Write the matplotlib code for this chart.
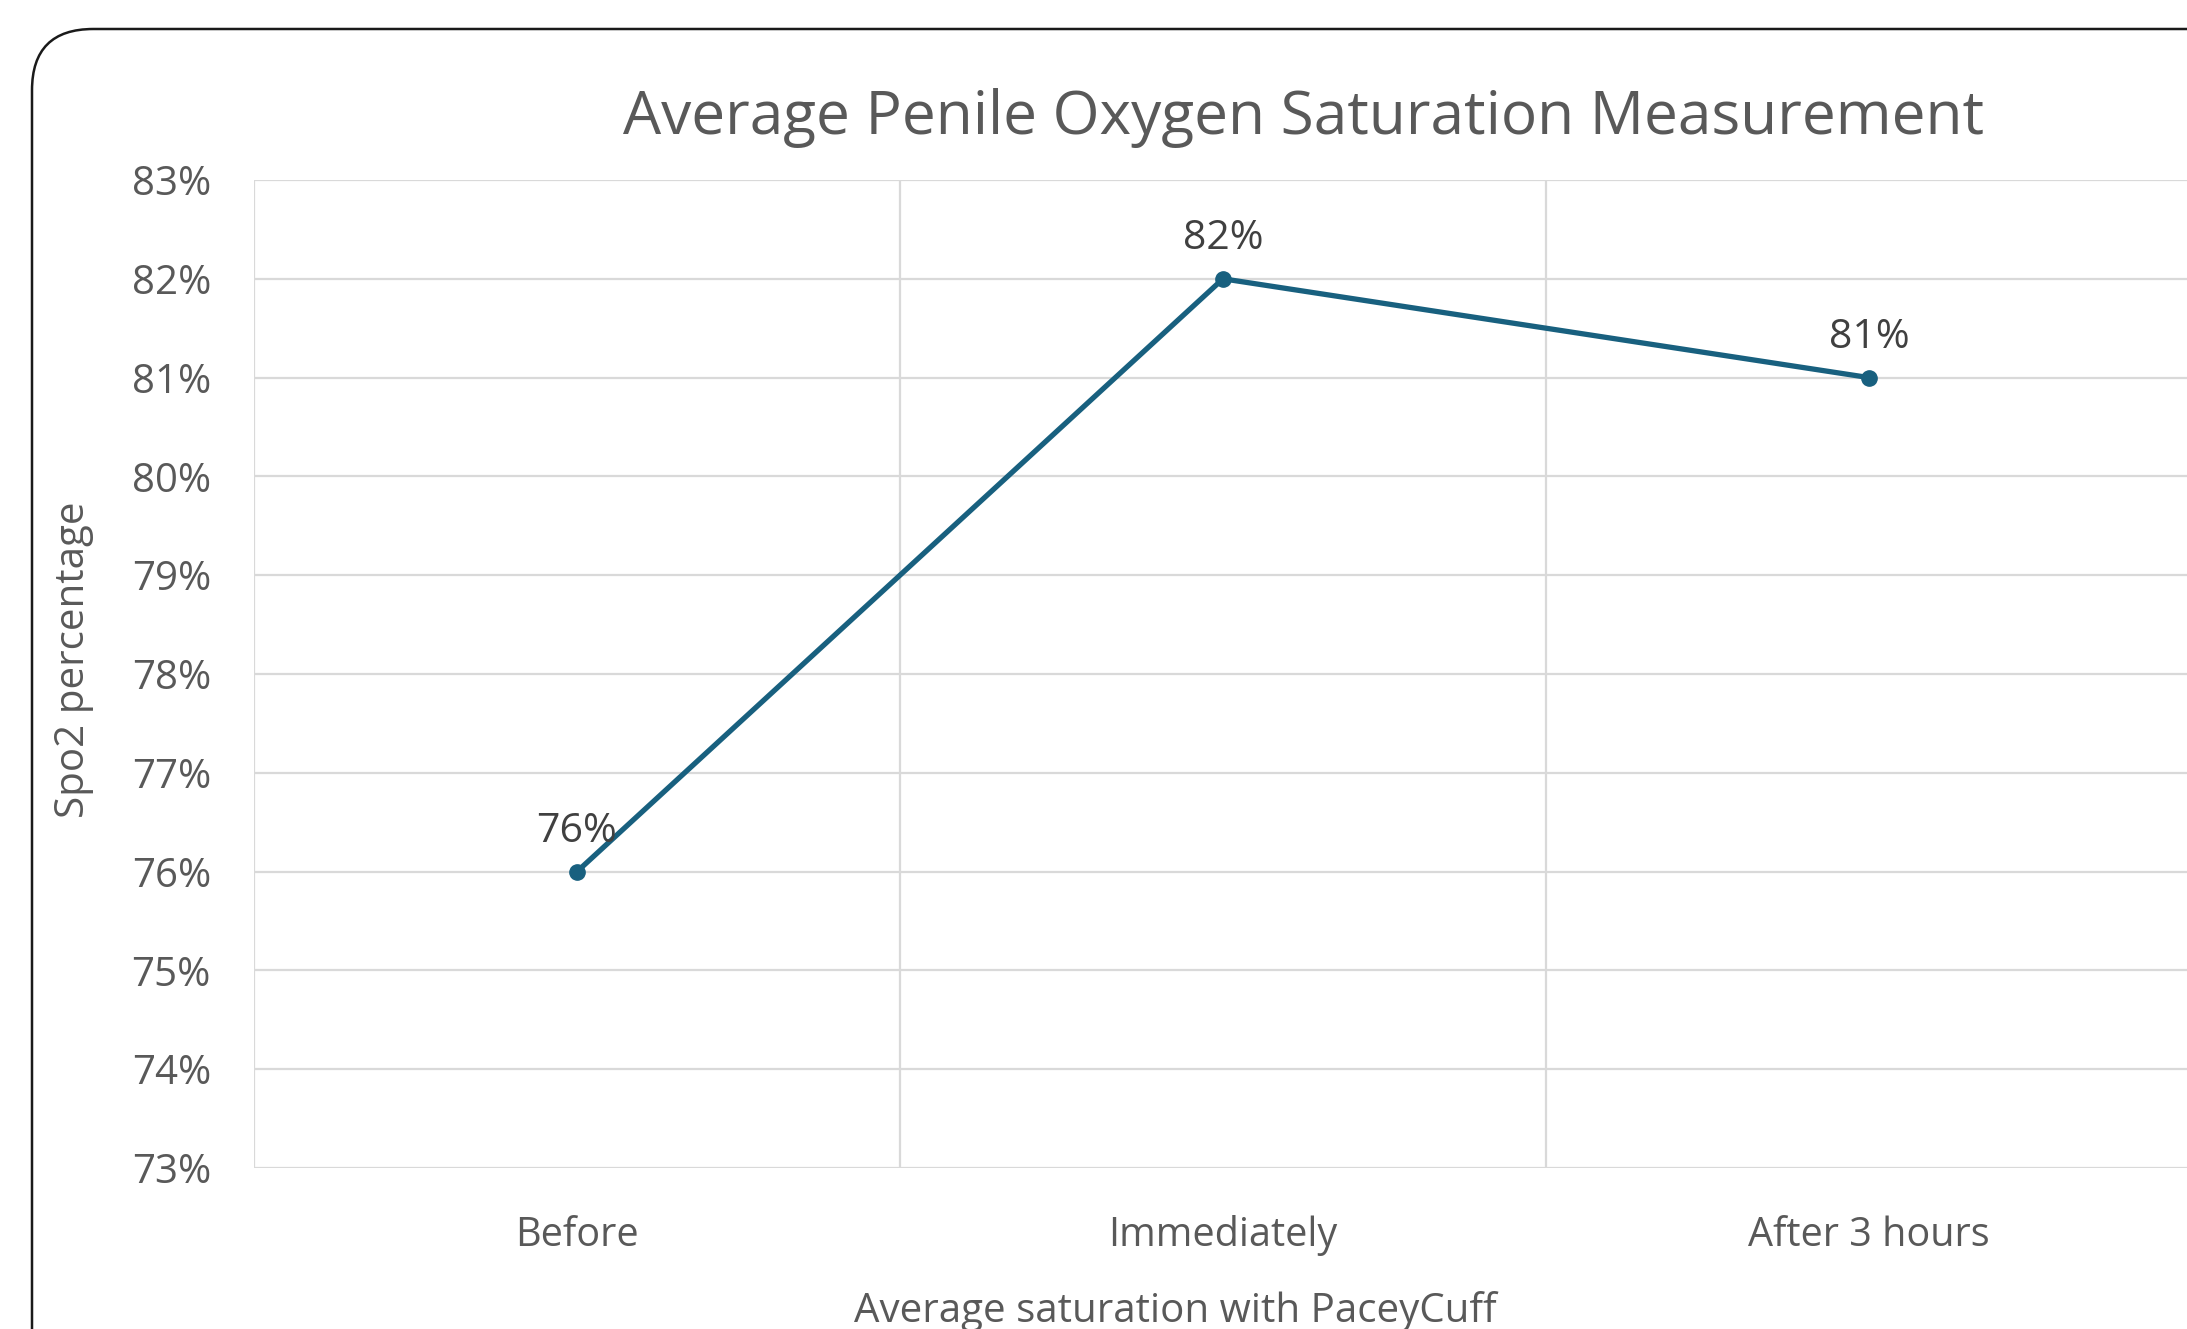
import matplotlib
matplotlib.use("Agg")
import matplotlib.pyplot as plt
from matplotlib.patches import FancyBboxPatch
from matplotlib.ticker import FuncFormatter, FixedLocator

categories = ["Before", "Immediately", "After 3 hours"]
values = [76, 82, 81]
y_ticks = [73, 74, 75, 76, 77, 78, 79, 80, 81, 82, 83]

title = "Average Penile Oxygen Saturation Measurement"
x_title = "Average saturation with PaceyCuff"
y_title = "Spo2 percentage"

plt.rcParams['font.family'] = ['Open Sans', 'DejaVu Sans']

W, H, DPI = 2187, 1329, 100
fig = plt.figure(figsize=(W / DPI, H / DPI), dpi=DPI)
fig.patch.set_facecolor("white")

# rounded chart border (extends past the right/bottom edges as in the reference)
border = FancyBboxPatch((32 / W, -0.2), 1.3, 1 - 29 / H + 0.2,
                        boxstyle="round,pad=0,rounding_size=0.028",
                        transform=fig.transFigure, fill=False,
                        edgecolor="#1a1a1a", linewidth=1.8,
                        mutation_aspect=W / H, zorder=0)
fig.patches.append(border)

left, right = 254 / W, 2192 / W
bottom, top = 1 - 1168 / H, 1 - 180 / H
ax = fig.add_axes([left, bottom, right - left, top - bottom])
ax.set_facecolor("none")

x = list(range(len(categories)))
line_color = "#18607f"
ax.plot(x, values, color=line_color, linewidth=3.8, marker="o",
        markersize=11, zorder=3, solid_capstyle="round")

for xi, v in zip(x, values):
    ax.annotate(f"{v}%", (xi, v), xytext=(0, 14), textcoords="offset points",
                ha="center", va="bottom", fontsize=29.5, color="#404040", zorder=4)

ax.set_xlim(-0.5, len(categories) - 0.5)
ax.set_ylim(y_ticks[0], y_ticks[-1])
ax.yaxis.set_major_locator(FixedLocator(y_ticks))
ax.yaxis.set_major_formatter(FuncFormatter(lambda v, p: f"{int(round(v))}%"))
ax.set_xticks(x)
ax.set_xticklabels(categories)
ax.xaxis.set_minor_locator(FixedLocator([i - 0.5 for i in range(len(categories) + 1)]))

grid_color = "#d9d9d9"
ax.grid(axis="y", which="major", color=grid_color, linewidth=1.6, zorder=1)
ax.grid(axis="x", which="minor", color=grid_color, linewidth=1.6, zorder=1)
ax.grid(axis="x", which="major", visible=False)

for s in ax.spines.values():
    s.set_visible(False)

ax.tick_params(axis="both", which="both", length=0)
ax.tick_params(axis="y", labelsize=29, labelcolor="#595959", pad=31)
ax.tick_params(axis="x", labelsize=28.5, labelcolor="#595959", pad=34)

fig.text(1304 / W, 1 - 118 / H, title, ha="center", va="center",
         fontsize=43.5, color="#595959")
fig.text(1175 / W, 1 - 1312 / H, x_title, ha="center", va="center",
         fontsize=29, color="#595959")
fig.text(74 / W, 1 - 660 / H, y_title, ha="center", va="center",
         rotation=90, fontsize=29, color="#595959")

fig.savefig("out.png", dpi=DPI)
